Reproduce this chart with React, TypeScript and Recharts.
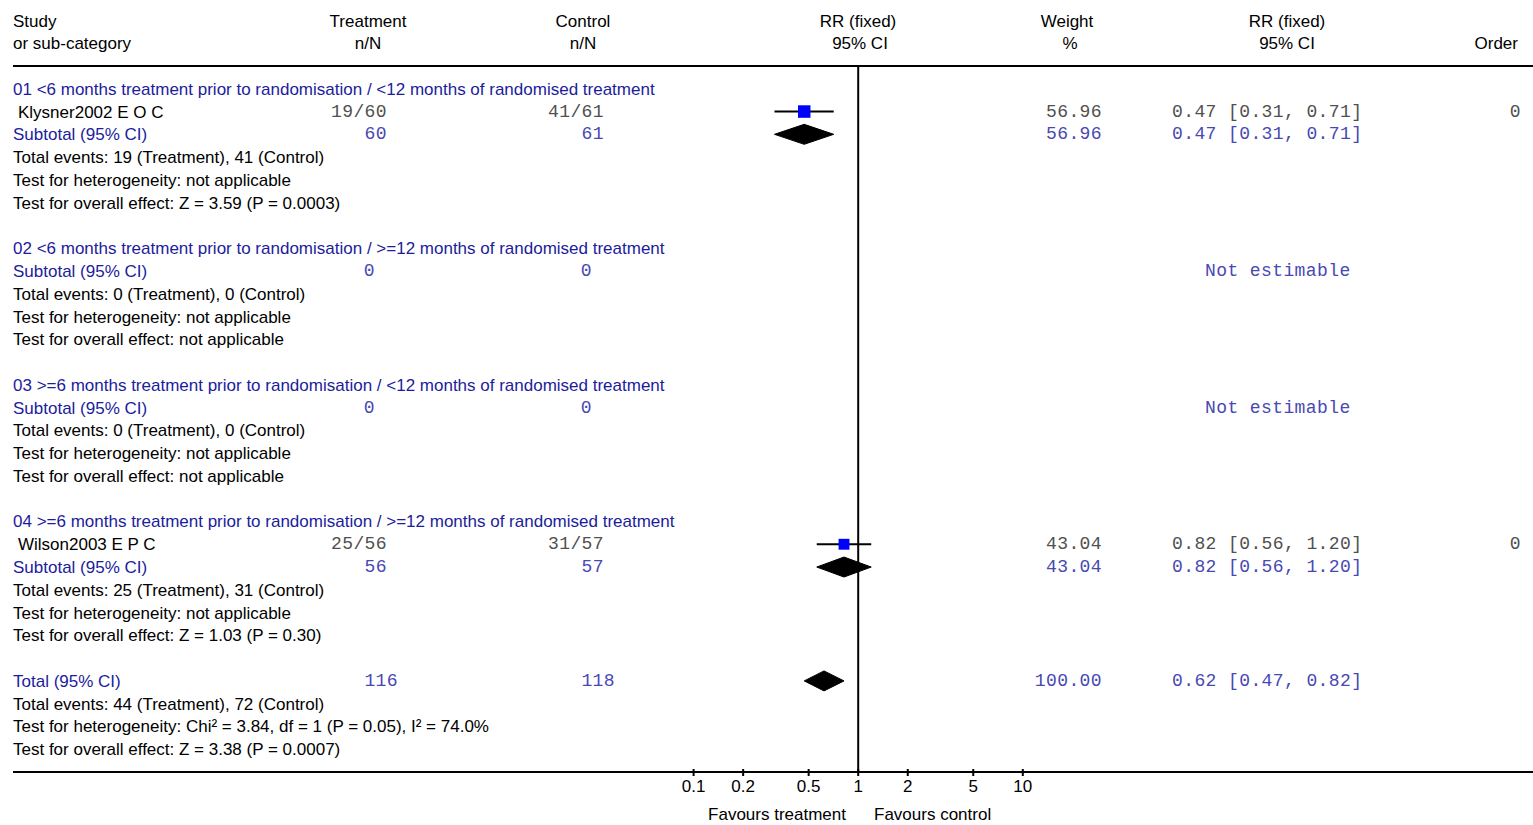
import React from 'react';
import { ComposedChart, ReferenceLine, Scatter, XAxis, YAxis } from 'recharts';

// subgroups
const groupTitles = [
  '01 <6 months treatment prior to randomisation / <12 months of randomised treatment',
  '02 <6 months treatment prior to randomisation / >=12 months of randomised treatment',
  '03 >=6 months treatment prior to randomisation / <12 months of randomised treatment',
  '04 >=6 months treatment prior to randomisation / >=12 months of randomised treatment',
];
const groupTreatTotal = [60, 0, 0, 56];
const groupControlTotal = [61, 0, 0, 57];
const groupTreatEvents = [19, 0, 0, 25];
const groupControlEvents = [41, 0, 0, 31];
const groupRR = [0.47, null, null, 0.82];
const groupLo = [0.31, null, null, 0.56];
const groupHi = [0.71, null, null, 1.2];
const groupWeight = [56.96, null, null, 43.04];
const groupHeterogeneity = ['not applicable', 'not applicable', 'not applicable', 'not applicable'];
const groupOverall = ['Z = 3.59 (P = 0.0003)', 'not applicable', 'not applicable', 'Z = 1.03 (P = 0.30)'];

// studies
const studyNames = ['Klysner2002 E O C', 'Wilson2003 E P C'];
const studyGroup = [0, 3];
const studyTreatEvents = [19, 25];
const studyTreatTotal = [60, 56];
const studyControlEvents = [41, 31];
const studyControlTotal = [61, 57];
const studyRR = [0.47, 0.82];
const studyLo = [0.31, 0.56];
const studyHi = [0.71, 1.2];
const studyWeight = [56.96, 43.04];
const studyOrder = [0, 0];

// overall
const totalTreat = 116;
const totalControl = 118;
const totalTreatEvents = 44;
const totalControlEvents = 72;
const totalRR = 0.62;
const totalLo = 0.47;
const totalHi = 0.82;
const totalWeight = 100;
const totalHeterogeneity = 'Chi² = 3.84, df = 1 (P = 0.05), I² = 74.0%';
const totalOverall = 'Z = 3.38 (P = 0.0007)';

const axisTicks = [0.1, 0.2, 0.5, 1, 2, 5, 10];

const SANS = '"Liberation Sans", Arial, sans-serif';
const MONO = '"Liberation Mono", "Courier New", monospace';
const BLUE = '#1c1c9c';
const BLUE_NUM = '#4848b4';
const GREY = '#505050';

const W = 1533;
const H = 825;
const LEFT = 13;
const TOP = 66;
const AXIS_H = 53;
// log axis placement: value 1 at x=858, one decade = 164.6px
const ONE_X = 858.2;
const DECADE = 164.6;
const xDomain = [Math.pow(10, (LEFT - ONE_X) / DECADE), Math.pow(10, (W - ONE_X) / DECADE)];

const fmtCI = (rr: number, lo: number, hi: number) =>
  `${rr.toFixed(2)} [${lo.toFixed(2)}, ${hi.toFixed(2)}]`;

type Row = {
  x: number;
  y: number;
  kind: 'heading' | 'study' | 'subtotal' | 'info' | 'total';
  label: string;
  treat?: string;
  control?: string;
  weight?: string;
  ci?: string;
  order?: string;
  empty?: boolean;
};

const rows: Row[] = [];
const studyMarks: { x: number; y: number; part: string; w: number }[][] = [];
const diamonds: { x: number; y: number }[][] = [];
let r = 0;
groupTitles.forEach((title, g) => {
  rows.push({ x: 1, y: r++, kind: 'heading', label: title });
  studyNames.forEach((name, s) => {
    if (studyGroup[s] !== g) return;
    studyMarks.push([
      { x: studyLo[s], y: r, part: 'lo', w: studyWeight[s] },
      { x: studyRR[s], y: r, part: 'est', w: studyWeight[s] },
      { x: studyHi[s], y: r, part: 'hi', w: studyWeight[s] },
    ]);
    rows.push({
      x: 1,
      y: r++,
      kind: 'study',
      label: name,
      treat: `${studyTreatEvents[s]}/${studyTreatTotal[s]}`,
      control: `${studyControlEvents[s]}/${studyControlTotal[s]}`,
      weight: studyWeight[s].toFixed(2),
      ci: fmtCI(studyRR[s], studyLo[s], studyHi[s]),
      order: String(studyOrder[s]),
    });
  });
  const rr = groupRR[g];
  if (rr !== null) {
    diamonds.push([
      { x: groupLo[g] as number, y: r },
      { x: rr, y: r },
      { x: groupHi[g] as number, y: r },
    ]);
  }
  rows.push({
    x: 1,
    y: r++,
    kind: 'subtotal',
    label: 'Subtotal (95% CI)',
    treat: String(groupTreatTotal[g]),
    control: String(groupControlTotal[g]),
    weight: rr !== null ? (groupWeight[g] as number).toFixed(2) : undefined,
    ci: rr !== null ? fmtCI(rr, groupLo[g] as number, groupHi[g] as number) : 'Not estimable',
    empty: rr === null,
  });
  rows.push({ x: 1, y: r++, kind: 'info', label: `Total events: ${groupTreatEvents[g]} (Treatment), ${groupControlEvents[g]} (Control)` });
  rows.push({ x: 1, y: r++, kind: 'info', label: `Test for heterogeneity: ${groupHeterogeneity[g]}` });
  rows.push({ x: 1, y: r++, kind: 'info', label: `Test for overall effect: ${groupOverall[g]}` });
  r++;
});
diamonds.push([
  { x: totalLo, y: r },
  { x: totalRR, y: r },
  { x: totalHi, y: r },
]);
rows.push({
  x: 1,
  y: r++,
  kind: 'total',
  label: 'Total (95% CI)',
  treat: String(totalTreat),
  control: String(totalControl),
  weight: totalWeight.toFixed(2),
  ci: fmtCI(totalRR, totalLo, totalHi),
});
rows.push({ x: 1, y: r++, kind: 'info', label: `Total events: ${totalTreatEvents} (Treatment), ${totalControlEvents} (Control)` });
rows.push({ x: 1, y: r++, kind: 'info', label: `Test for heterogeneity: ${totalHeterogeneity}` });
rows.push({ x: 1, y: r++, kind: 'info', label: `Test for overall effect: ${totalOverall}` });
const rowCount = r;

const sansText = (x: number, y: number, s: string, fill = '#000', anchor = 'start') => (
  <text x={x} y={y + 6} fill={fill} fontFamily={SANS} fontSize={17} textAnchor={anchor as any}>
    {s}
  </text>
);
const monoText = (x: number, y: number, s: string, fill: string, anchor = 'end') => (
  <text
    x={x}
    y={y + 5}
    fill={fill}
    fontFamily={MONO}
    fontSize={18}
    letterSpacing={0.4}
    textAnchor={anchor as any}
  >
    {s}
  </text>
);

const renderRow = (props: any) => {
  const row: Row = props.payload;
  const cy = props.cy;
  if (row.kind === 'heading') return <g>{sansText(LEFT, cy, row.label, BLUE)}</g>;
  if (row.kind === 'info') return <g>{sansText(LEFT, cy, row.label)}</g>;
  if (row.kind === 'study') {
    return (
      <g>
        {sansText(LEFT + 5, cy, row.label)}
        {monoText(387, cy, row.treat!, GREY)}
        {monoText(604, cy, row.control!, GREY)}
        {monoText(1102, cy, row.weight!, GREY)}
        {monoText(1172, cy, row.ci!, GREY, 'start')}
        {monoText(1521, cy, row.order!, GREY)}
      </g>
    );
  }
  const isTotal = row.kind === 'total';
  return (
    <g>
      {sansText(LEFT, cy, row.label, BLUE)}
      {monoText(isTotal ? 398 : row.empty ? 375 : 387, cy, row.treat!, BLUE_NUM)}
      {monoText(isTotal ? 615 : row.empty ? 592 : 604, cy, row.control!, BLUE_NUM)}
      {row.weight && monoText(1102, cy, row.weight, BLUE_NUM)}
      {monoText(row.empty ? 1205 : 1172, cy, row.ci!, BLUE_NUM, 'start')}
    </g>
  );
};

const renderSquare = (props: any) => {
  if (props.payload.part !== 'est') return <g />;
  const s = 12.5 * Math.sqrt(props.payload.w / studyWeight[0]);
  return <rect x={props.cx - s / 2} y={props.cy - s / 2} width={s} height={s} fill="#0000ff" />;
};

const renderCILine = (props: any) => {
  const pts = props.points;
  const a = pts[0];
  const b = pts[pts.length - 1];
  return <line x1={a.x} y1={a.y} x2={b.x} y2={b.y} stroke="#000" strokeWidth={2} />;
};

const renderDiamond = (props: any) => {
  const [lo, est, hi] = props.points;
  const h = 10;
  const d = `M${lo.x},${lo.y} L${est.x},${est.y - h} L${hi.x},${hi.y} L${est.x},${est.y + h} Z`;
  return <path d={d} fill="#000" stroke="#000" strokeWidth={1} />;
};

const AxisTick = (props: any) => {
  const { x, y, payload } = props;
  return (
    <g>
      <line x1={x} y1={y - 3} x2={x} y2={y + 4} stroke="#000" strokeWidth={2} />
      <text x={x} y={y + 20} textAnchor="middle" fontFamily={SANS} fontSize={17} fill="#000">
        {payload.value}
      </text>
    </g>
  );
};

const App = () => (
  <div style={{ position: 'absolute', left: 0, top: 0, width: W, height: H, background: '#fff' }}>
    <ComposedChart width={W} height={H} margin={{ top: TOP, right: 0, left: LEFT, bottom: 0 }}>
      <XAxis
        type="number"
        dataKey="x"
        scale="log"
        domain={xDomain}
        allowDataOverflow
        ticks={axisTicks}
        interval={0}
        tickSize={0}
        tickMargin={0}
        tickLine={false}
        tick={<AxisTick />}
        axisLine={{ stroke: '#000', strokeWidth: 2 }}
        height={AXIS_H}
      />
      <YAxis type="number" dataKey="y" domain={[-1, rowCount]} reversed allowDataOverflow hide />
      <ReferenceLine y={-1} stroke="#000" strokeWidth={2} />
      <ReferenceLine x={1} stroke="#000" strokeWidth={2} />
      <Scatter data={rows} shape={renderRow} isAnimationActive={false} legendType="none" />
      {studyMarks.map((d, i) => (
        <Scatter
          key={`s${i}`}
          data={d}
          line={renderCILine}
          shape={renderSquare}
          isAnimationActive={false}
          legendType="none"
        />
      ))}
      {diamonds.map((d, i) => (
        <Scatter
          key={`d${i}`}
          data={d}
          line={renderDiamond}
          shape={() => <g />}
          isAnimationActive={false}
          legendType="none"
        />
      ))}
      <g>
        {sansText(LEFT, 21, 'Study')}
        {sansText(LEFT, 43, 'or sub-category')}
        {sansText(368, 21, 'Treatment', '#000', 'middle')}
        {sansText(368, 43, 'n/N', '#000', 'middle')}
        {sansText(583, 21, 'Control', '#000', 'middle')}
        {sansText(583, 43, 'n/N', '#000', 'middle')}
        {sansText(858, 21, 'RR (fixed)', '#000', 'middle')}
        {sansText(860, 43, '95% CI', '#000', 'middle')}
        {sansText(1067, 21, 'Weight', '#000', 'middle')}
        {sansText(1070, 43, '%', '#000', 'middle')}
        {sansText(1287, 21, 'RR (fixed)', '#000', 'middle')}
        {sansText(1287, 43, '95% CI', '#000', 'middle')}
        {sansText(1518, 43, 'Order', '#000', 'end')}
        {sansText(846, 814, 'Favours treatment', '#000', 'end')}
        {sansText(874, 814, 'Favours control', '#000', 'start')}
      </g>
    </ComposedChart>
  </div>
);

export default App;
